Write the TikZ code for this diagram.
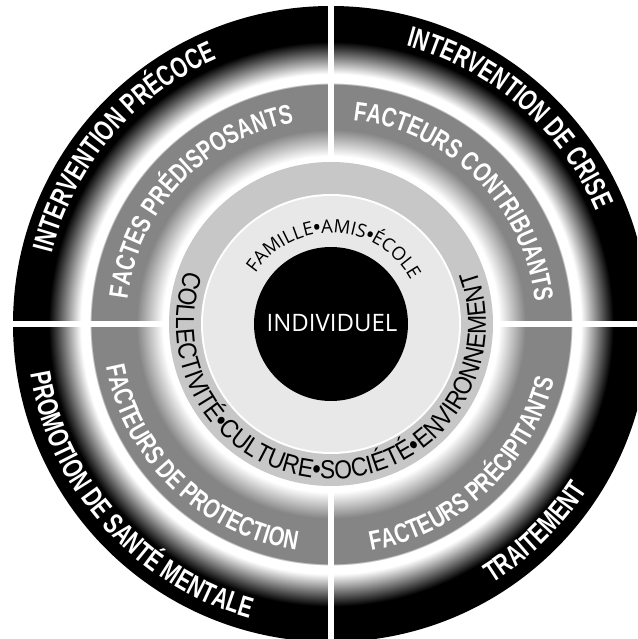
\documentclass[tikz,border=0pt]{standalone}
\usepackage{fontspec}
\usetikzlibrary{decorations.text}
\newfontfamily\bandfont[FakeStretch=0.72]{Liberation Sans}
\newfontfamily\greyfont[FakeStretch=0.75]{Liberation Sans}
\newfontfamily\ringfont[FakeStretch=0.88]{Liberation Sans}
\newfontfamily\roundfont{Open Sans}
\newcommand{\bandsize}{\bandfont\bfseries\fontsize{29pt}{31pt}\selectfont}
\newcommand{\greysize}{\greyfont\bfseries\fontsize{27pt}{29pt}\selectfont}
\newcommand{\ringsize}{\ringfont\mdseries\fontsize{26pt}{28pt}\selectfont}
\newcommand{\coresize}{\roundfont\mdseries\fontsize{18.5pt}{20pt}\selectfont}
% heavier dots between the words of the inner rings
\newcommand{\ringdot}{\ringfont\bfseries\fontsize{26pt}{28pt}\selectfont}
\newcommand{\coredot}{\roundfont\bfseries\fontsize{18.5pt}{20pt}\selectfont}
\definecolor{bandgrey}{gray}{0.52}
\definecolor{ringgrey}{gray}{0.78}
\definecolor{coregrey}{gray}{0.91}
% fades of the two outer bands, 25bp is the outer edge (318pt)
\pgfdeclareradialshading{wheelfade}{\pgfpoint{0bp}{0bp}}{%
  color(0bp)=(white); color(13.2bp)=(white); color(15.3bp)=(bandgrey);
  color(18.85bp)=(bandgrey); color(18.95bp)=(white); color(19.65bp)=(white);
  color(22.2bp)=(black); color(25bp)=(black); color(50bp)=(black)}
\tikzstyle{band text} = [decorate, decoration={text along path, text align=center, text color=white}]
\tikzstyle{ring text} = [decorate, decoration={text along path, text align=center, text color=black}]
\tikzstyle{gap} = [fill=white]

\begin{document}
\begin{tikzpicture}
	\useasboundingbox (-331pt,-315pt) rectangle (306pt,324pt);
	\clip (-331pt,-315pt) rectangle (306pt,324pt);
	
	% bands, outside in
	\shade [shading=wheelfade] (0,0) circle (318pt);
	\fill [ringgrey] (0,0) circle (162pt);
	\fill [white] (0,0) circle (130pt);
	\fill [coregrey] (0,0) circle (128pt);
	\fill [black] (0,0) circle (77pt);
	
	% white cross through the two outer bands
	\path [gap] (-3pt,164pt) rectangle (3pt,330pt);
	\path [gap] (-3pt,-164pt) rectangle (3pt,-330pt);
	\path [gap] (-164pt,-3pt) rectangle (-340pt,3pt);
	\path [gap] (164pt,-3pt) rectangle (340pt,3pt);
	
	% outer band
	\path [band text, decoration={text={|\bandsize|INTERVENTION PRÉCOCE}}] (224.5:288pt) arc[start angle=224.5, end angle=54.5, radius=288pt];
	\path [band text, decoration={text={|\bandsize|INTERVENTION DE CRISE}}] (134:288pt) arc[start angle=134, end angle=-36, radius=288pt];
	\path [band text, decoration={text={|\bandsize|PROMOTION DE SANTÉ MENTALE}}] (137:305pt) arc[start angle=137, end angle=307, radius=305pt];
	\path [band text, decoration={text={|\bandsize|TRAITEMENT}}] (229.5:305pt) arc[start angle=229.5, end angle=399.5, radius=305pt];
	
	% factors band
	\path [band text, decoration={text={|\greysize|FACTES PRÉDISPOSANTS}}] (221.7:205pt) arc[start angle=221.7, end angle=51.7, radius=205pt];
	\path [band text, decoration={text={|\greysize|FACTEURS CONTRIBUANTS}}] (130:205pt) arc[start angle=130, end angle=-40, radius=205pt];
	\path [band text, decoration={text={|\greysize|FACTEURS DE PROTECTION}}] (141:229pt) arc[start angle=141, end angle=311, radius=229pt];
	\path [band text, decoration={text={|\greysize|FACTEURS PRÉCIPITANTS}}] (228:230pt) arc[start angle=228, end angle=398, radius=230pt];
	
	% inner rings
	\path [ring text, decoration={text={|\ringsize|COLLECTIVITÉ|\ringdot|•|\ringsize|CULTURE|\ringdot|•|\ringsize|SOCIÉTÉ|\ringdot|•|\ringsize|ENVIRONNEMENT}}] (95:155pt) arc[start angle=95, end angle=445, radius=155pt];
	\path [ring text, decoration={text={|\coresize|FAMILLE|\coredot|•|\coresize|AMIS|\coredot|•|\coresize|ÉCOLE}}] (177.5:91pt) arc[start angle=177.5, end angle=-2.5, radius=91pt];
	
	\node [text=white, font=\roundfont\fontsize{24pt}{26pt}\selectfont] (individuel) at (1pt,1pt) {INDIVIDUEL};
	
\end{tikzpicture}
\end{document}
